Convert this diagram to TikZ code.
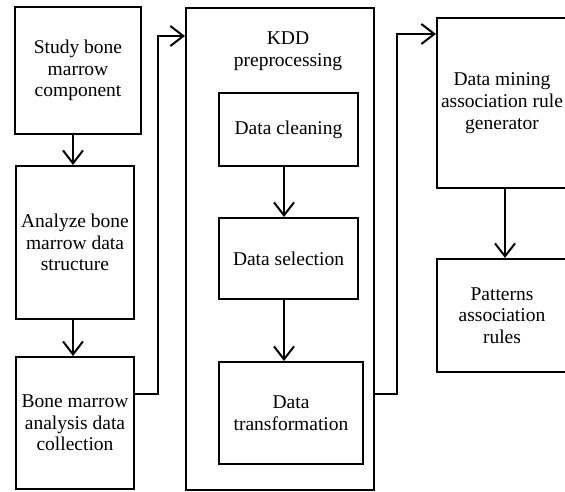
\documentclass[tikz,border=0pt]{standalone}
\usepackage{fontspec}
\setmainfont{Liberation Serif}
\usetikzlibrary{arrows.meta}
\tikzset{
  box/.style={draw, line width=2pt, rectangle, inner sep=0pt, align=center,
    font=\fontsize{19.5}{21.7}\selectfont},
  plain/.style={inner sep=0pt, align=center, font=\fontsize{19.5}{21.7}\selectfont},
  conn/.style={line width=2pt, -{Straight Barb[length=13pt,width=20pt]}},
  link/.style={line width=2pt}
}
\begin{document}
\begin{tikzpicture}[x=1pt,y=-1pt]
\useasboundingbox (0,0) rectangle (565,491);
% left column
\node[box, minimum width=126pt, minimum height=127pt] (s1) at (78,70.5) {Study bone\\marrow\\component};
\node[box, minimum width=118pt, minimum height=153pt] (s2) at (75,242.5) {Analyze bone\\marrow data\\structure};
\node[box, minimum width=118pt, minimum height=132pt] (s3) at (75,423) {Bone marrow\\analysis data\\collection};
% KDD
\node[box, minimum width=188pt, minimum height=482pt] (kdd) at (280,249) {};
\node[plain] (kddlabel) at (288,51) {KDD\\preprocessing};
\node[box, minimum width=139pt, minimum height=73pt] (dc) at (288.5,129.5) {Data cleaning};
\node[box, minimum width=139pt, minimum height=81pt] (ds) at (288.5,258.5) {Data selection};
\node[box, minimum width=144pt, minimum height=102pt] (dt) at (291,413) {Data\\transformation};
% right column
\node[box, minimum width=130pt, minimum height=170pt] (dm) at (502,103) {Data mining\\association rule\\generator};
\node[box, minimum width=130pt, minimum height=113pt] (pat) at (502,315.5) {Patterns\\association\\rules};
% coordinates
\coordinate (a1) at (73,0);
\coordinate (a2) at (284,0);
\coordinate (a3) at (505,0);
\coordinate (c1) at (158,394);
\coordinate (c2) at (158,36);
\coordinate (c3) at (397,394);
\coordinate (c4) at (397,34);
% connectors
\draw[conn] (s1.south -| a1) -- (s2.north -| a1);
\draw[conn] (s2.south -| a1) -- (s3.north -| a1);
\draw[conn] (dc.south -| a2) -- (ds.north -| a2);
\draw[conn] (ds.south -| a2) -- (dt.north -| a2);
\draw[conn] (dm.south -| a3) -- (pat.north -| a3);
\draw[conn] (s3.east |- c1) -- (c1) -- (c2) -- (kdd.west |- c2);
\draw[conn] (kdd.east |- c3) -- (c3) -- (c4) -- (dm.west |- c4);
\end{tikzpicture}
\end{document}
